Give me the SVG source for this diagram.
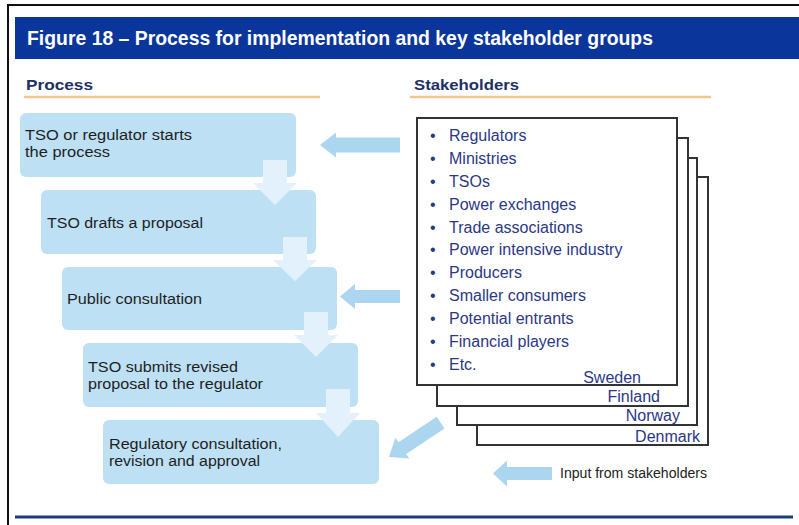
<svg xmlns="http://www.w3.org/2000/svg" width="799" height="525" viewBox="0 0 799 525">
<style>
.frame{fill:none;stroke:#111;stroke-width:2}
.title{font-family:"Liberation Sans",Arial,sans-serif;font-weight:bold;font-size:20px;fill:#fff}
.head{font-family:"Liberation Sans",Arial,sans-serif;font-weight:bold;font-size:15px;fill:#1c2f66}
.uline{stroke:#f5c48a;stroke-width:2.5}
.box{fill:#bde0f5}
.ptxt{font-family:"Liberation Sans",Arial,sans-serif;font-size:15.5px;fill:#1e1e1e}
.sheet{fill:#fff;stroke:#333;stroke-width:2}
.stxt{font-family:"Liberation Sans",Arial,sans-serif;font-size:16px;fill:#2b3886}
.ctxt{font-family:"Liberation Sans",Arial,sans-serif;font-size:16px;fill:#2b3886;text-anchor:end}
.down{fill:#e2f1fb}
.inarr{fill:#acd5f0}
.leg{font-family:"Liberation Sans",Arial,sans-serif;font-size:14px;fill:#222}
</style>
<rect width="799" height="525" fill="#fff"/>
<path class="frame" d="M8,525 V5 H799"/>
<g id="title">
<rect x="15" y="17" width="784" height="42" fill="#0a369c"/>
<text class="title" x="27" y="45" textLength="626" lengthAdjust="spacingAndGlyphs">Figure 18 – Process for implementation and key stakeholder groups</text>
</g>
<g id="head-process">
<text class="head" x="26" y="90" textLength="67" lengthAdjust="spacingAndGlyphs">Process</text>
<line class="uline" x1="24" y1="97" x2="320" y2="97"/>
</g>
<g id="head-stakeholders">
<text class="head" x="414" y="90" textLength="105" lengthAdjust="spacingAndGlyphs">Stakeholders</text>
<line class="uline" x1="410" y1="97" x2="711" y2="97"/>
</g>
<g id="step1"><rect class="box" x="20" y="113" width="276" height="64" rx="6"/>
<text class="ptxt" x="25" y="140" textLength="167" lengthAdjust="spacingAndGlyphs">TSO or regulator starts</text>
<text class="ptxt" x="25" y="157" textLength="85" lengthAdjust="spacingAndGlyphs">the process</text></g>
<g id="step2"><rect class="box" x="41" y="190" width="275" height="64" rx="6"/>
<text class="ptxt" x="47" y="228" textLength="156" lengthAdjust="spacingAndGlyphs">TSO drafts a proposal</text></g>
<g id="step3"><rect class="box" x="62" y="267" width="275" height="63" rx="6"/>
<text class="ptxt" x="67" y="304" textLength="135" lengthAdjust="spacingAndGlyphs">Public consultation</text></g>
<g id="step4"><rect class="box" x="83" y="343" width="275" height="64" rx="6"/>
<text class="ptxt" x="88" y="372" textLength="150" lengthAdjust="spacingAndGlyphs">TSO submits revised</text>
<text class="ptxt" x="88" y="389" textLength="175" lengthAdjust="spacingAndGlyphs">proposal to the regulator</text></g>
<g id="step5"><rect class="box" x="103" y="420" width="276" height="64" rx="6"/>
<text class="ptxt" x="109" y="449" textLength="173" lengthAdjust="spacingAndGlyphs">Regulatory consultation,</text>
<text class="ptxt" x="109" y="466" textLength="151" lengthAdjust="spacingAndGlyphs">revision and approval</text></g>
<g id="stakeholders">
<rect class="sheet" x="477" y="177" width="231" height="268"/>
<rect class="sheet" x="457" y="158" width="240" height="267"/>
<rect class="sheet" x="437" y="138" width="251" height="268"/>
<rect class="sheet" x="417" y="118" width="260" height="267"/>
<g class="stxt">
<text x="430" y="140.8">•</text><text x="449" y="140.8">Regulators</text>
<text x="430" y="163.7">•</text><text x="449" y="163.7">Ministries</text>
<text x="430" y="186.6">•</text><text x="449" y="186.6">TSOs</text>
<text x="430" y="209.6">•</text><text x="449" y="209.6">Power exchanges</text>
<text x="430" y="232.5">•</text><text x="449" y="232.5">Trade associations</text>
<text x="430" y="255.4">•</text><text x="449" y="255.4">Power intensive industry</text>
<text x="430" y="278.3">•</text><text x="449" y="278.3">Producers</text>
<text x="430" y="301.2">•</text><text x="449" y="301.2">Smaller consumers</text>
<text x="430" y="324.1">•</text><text x="449" y="324.1">Potential entrants</text>
<text x="430" y="347">•</text><text x="449" y="347">Financial players</text>
<text x="430" y="369.9">•</text><text x="449" y="369.9">Etc.</text>
</g>
<text class="ctxt" x="641" y="382.5">Sweden</text>
<text class="ctxt" x="660" y="401.5">Finland</text>
<text class="ctxt" x="680" y="420.5">Norway</text>
<text class="ctxt" x="700" y="441.5">Denmark</text>
</g>
<g id="connectors">
<path class="down" d="M263,160 H287 V183 H297 L275,205 L253,183 H263 Z"/>
<path class="down" d="M283,237 H307 V260 H317 L295,281 L273,260 H283 Z"/>
<path class="down" d="M304,312 H328 V335 H338 L316,357 L294,335 H304 Z"/>
<path class="down" d="M326,389 H350 V413 H360 L338,437 L316,413 H326 Z"/>
<path class="inarr" d="M320,145 L336,132.5 V137.5 H400 V152.5 H336 V157.5 Z"/>
<path class="inarr" d="M340,296.5 L355,284 V290 H400 V303 H355 V309 Z"/>
<path class="inarr" transform="translate(389,457) rotate(-33.7)" d="M0,0 L16,-12.5 V-7 H62 V7 H16 V12.5 Z"/>
</g>
<g id="legend">
<path class="inarr" d="M493,473.5 L507,460.5 V467 H552 V480 H507 V486.5 Z"/>
<text class="leg" x="560" y="478" textLength="147" lengthAdjust="spacingAndGlyphs">Input from stakeholders</text>
</g>
<line x1="15" y1="517" x2="793" y2="517" stroke="#1f3d7a" stroke-width="3"/>
</svg>
